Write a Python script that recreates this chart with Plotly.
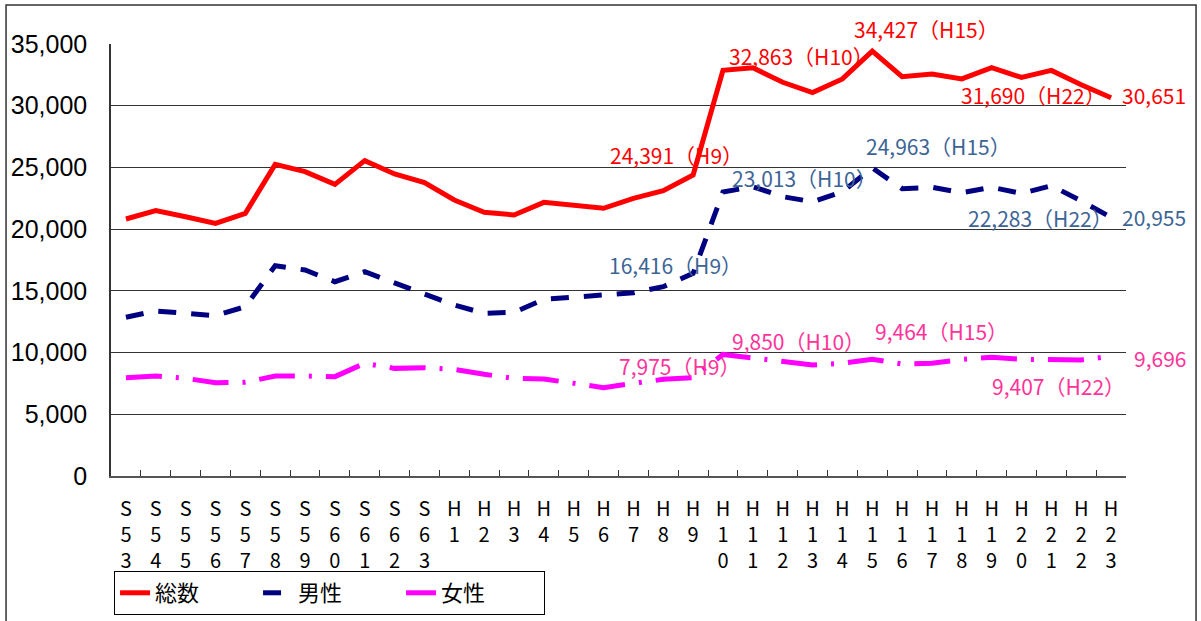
import plotly.graph_objects as go

categories = ["S53","S54","S55","S56","S57","S58","S59","S60","S61","S62","S63",
              "H1","H2","H3","H4","H5","H6","H7","H8","H9","H10","H11","H12","H13",
              "H14","H15","H16","H17","H18","H19","H20","H21","H22","H23"]
tick_text = ["<br>".join(list(c)) for c in categories]

total = [20820, 21500, 21000, 20470, 21280, 25250, 24660, 23630, 25550, 24470, 23780,
         22360, 21360, 21150, 22170, 21900, 21690, 22500, 23120, 24391, 32863, 33080,
         31900, 31060, 32170, 34427, 32350, 32570, 32170, 33080, 32290, 32860, 31690, 30651]
male = [12860, 13370, 13180, 12990, 13720, 17040, 16690, 15740, 16550, 15660, 14800,
        13850, 13180, 13260, 14310, 14480, 14610, 14850, 15340, 16416, 23013, 23440,
        22630, 22220, 23030, 24963, 23280, 23390, 22950, 23390, 22900, 23520, 22283, 20955]
female = [7970, 8100, 7910, 7560, 7600, 8100, 8100, 8050, 9130, 8720, 8780,
          8640, 8240, 7910, 7860, 7510, 7160, 7510, 7830, 7975, 9850, 9560,
          9260, 9000, 9130, 9464, 9070, 9130, 9450, 9620, 9450, 9450, 9407, 9696]

series_names = ["総数", "男性", "女性"]
line_colors = ["#FF0000", "#000080", "#FF00FF"]
label_colors = ["#FF0000", "#3C6595", "#FF3399"]
dashes = ["solid", "18px,15px", "36px,14px,3px,14px"]

# labelled points: (series index, category, text, xshift, yshift, xanchor)
labels = [
    (0, "H9", "24,391（H9）", -17, 20, "center"),
    (0, "H10", "32,863（H10）", 79, 14, "center"),
    (0, "H15", "34,427（H15）", 54, 22, "center"),
    (0, "H22", "31,690（H22）", -48, -10, "center"),
    (0, "H23", "30,651", 9, 3, "left"),
    (1, "H9", "16,416（H9）", -18, 8, "center"),
    (1, "H10", "23,013（H10）", 82, 14, "center"),
    (1, "H15", "24,963（H15）", 66, 22, "center"),
    (1, "H22", "22,283（H22）", -41, -17, "center"),
    (1, "H23", "20,955", 9, 0, "left"),
    (2, "H9", "7,975（H9）", -14, 12, "center"),
    (2, "H10", "9,850（H10）", 76, 13, "center"),
    (2, "H15", "9,464（H15）", 69, 28, "center"),
    (2, "H22", "9,407（H22）", -23, -26, "center"),
    (2, "H23", "9,696", 21, -2, "left"),
]

data = [total, male, female]
fig = go.Figure()
for name, vals, col, d in zip(series_names, data, line_colors, dashes):
    fig.add_trace(go.Scatter(x=categories, y=vals, name=name, mode="lines",
                             line=dict(color=col, width=5, dash=d)))

for si, cat, txt, xs, ys, xa in labels:
    fig.add_annotation(x=cat, y=data[si][categories.index(cat)], text=txt,
                       showarrow=False, xshift=xs, yshift=ys, xanchor=xa, yanchor="middle",
                       font=dict(family="Noto Sans CJK JP", size=21, color=label_colors[si]))

fig.add_shape(type="rect", xref="paper", yref="paper", x0=-0.1034, x1=1.069, y0=-0.34, y1=1.0903,
              line=dict(color="#333333", width=1.5), fillcolor="rgba(0,0,0,0)", layer="below")

fig.update_layout(
    width=1201, height=621,
    margin=dict(l=111, r=75, t=44, b=145, autoexpand=False),
    paper_bgcolor="white", plot_bgcolor="white",
    font=dict(family="Liberation Sans, Arial", color="black"),
    xaxis=dict(type="category", tickmode="array", tickvals=categories, ticktext=tick_text,
               tickson="boundaries", ticks="inside", ticklen=6, tickcolor="#333",
               showline=True, linecolor="#555", linewidth=2, showgrid=False,
               automargin=False, ticklabelstandoff=14,
               tickfont=dict(family="Noto Sans CJK JP", size=20, color="black"),
               range=[-0.5, 33.5]),
    yaxis=dict(range=[0, 35000], tickvals=[0, 5000, 10000, 15000, 20000, 25000, 30000, 35000],
               tickformat=",d", showgrid=True, gridcolor="#333333", gridwidth=1,
               showline=True, linecolor="#333", linewidth=1.5, ticks="",
               ticklabelstandoff=17, zeroline=False, automargin=False,
               tickfont=dict(family="Liberation Sans, Arial", size=25, color="black")),
    legend=dict(orientation="h", x=0.003, y=-0.2708, xanchor="left", yanchor="middle",
                bordercolor="black", borderwidth=1, bgcolor="white",
                font=dict(family="Noto Sans CJK JP", size=22, color="black"),
                entrywidth=98, tracegroupgap=0, valign="middle"),
    showlegend=True,
)

fig.write_html("out.html", config={"displayModeBar": False},
               post_script="document.body.style.margin='0';document.body.style.overflow='hidden';")
